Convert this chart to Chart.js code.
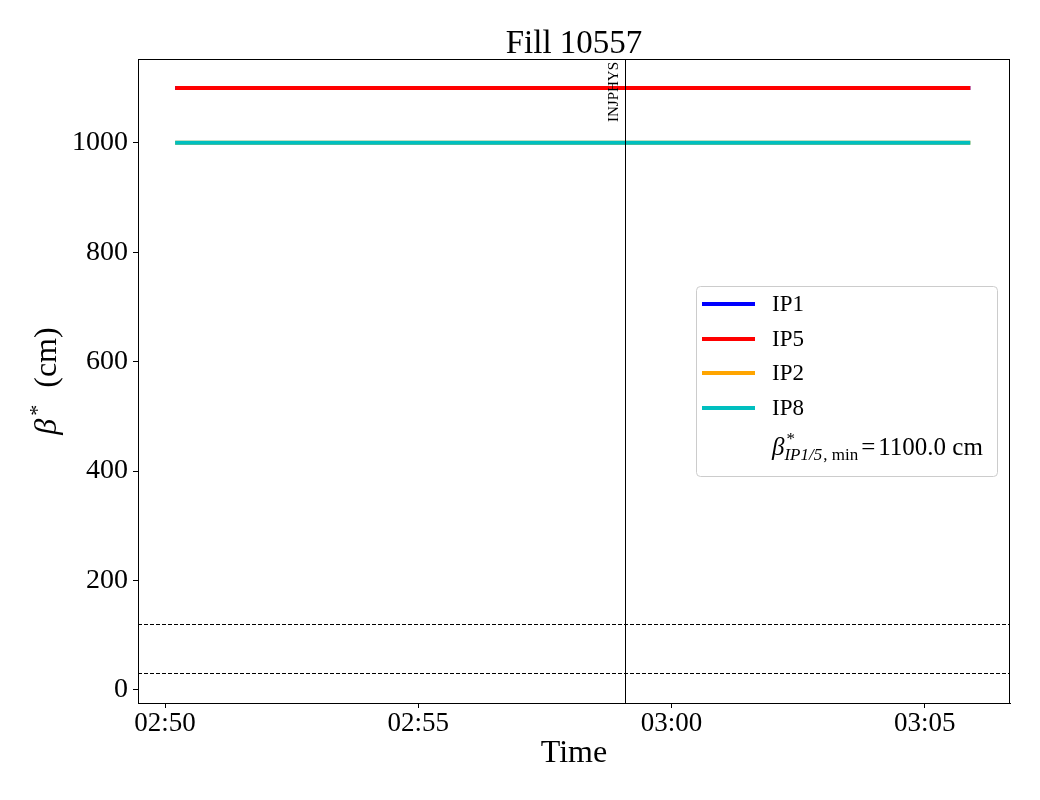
<!DOCTYPE html>
<html>
<head>
<meta charset="utf-8">
<title>Fill 10557</title>
<script src="https://cdn.jsdelivr.net/npm/chart.js@4"></script>
<style>
  html, body { margin: 0; padding: 0; background: #fff; }
  #wrap { width: 1040px; height: 800px; }
</style>
</head>
<body>
<div id="wrap"><canvas id="chart" width="1040" height="800"></canvas></div>
<script>
// --- data ---
var times = ['02:50:12', '02:55:00', '03:00:00', '03:05:54'];
var ip1Values = [1100, 1100, 1100, 1100];
var ip5Values = [1100, 1100, 1100, 1100];
var ip2Values = [1000, 1000, 1000, 1000];
var ip8Values = [1000, 1000, 1000, 1000];
var xTickLabels = ['02:50', '02:55', '03:00', '03:05'];
var yTickValues = [0, 200, 400, 600, 800, 1000];
var xRange = ['02:49:28', '03:06:41'];
var yRange = [-24, 1153];
var markerTime = '02:59:05';
var markerLabel = 'INJPHYS';
var dashedLevels = [120, 30];
var betaMin = '1100.0';

var SERIF = '"Liberation Serif", "DejaVu Serif", serif';

function toSec(t) {
    var p = t.split(':').map(Number);
    return p[0] * 3600 + p[1] * 60 + (p[2] || 0);
}
function fmt(sec) {
    var h = Math.floor(sec / 3600), m = Math.floor((sec % 3600) / 60);
    return (h < 10 ? '0' : '') + h + ':' + (m < 10 ? '0' : '') + m;
}
function pts(values) {
    return values.map(function(v, i) { return { x: toSec(times[i]), y: v }; });
}

var series = [
    { label: 'IP1', data: ip1Values, color: '#0000ff', order: 4 },
    { label: 'IP5', data: ip5Values, color: '#ff0000', order: 3 },
    { label: 'IP2', data: ip2Values, color: '#ffa500', order: 2 },
    { label: 'IP8', data: ip8Values, color: '#00bfbf', order: 1 }
];

// frame, marker line, dashed levels, title, axis labels and legend
var decorations = {
    id: 'decorations',
    beforeDatasetsDraw: function(chart) {
        var ctx = chart.ctx, a = chart.chartArea;
        var ys = chart.scales.y;
        ctx.save();
        ctx.strokeStyle = '#000';
        ctx.lineWidth = 1;
        ctx.setLineDash([4, 2]);
        dashedLevels.forEach(function(v) {
            var py = Math.round(ys.getPixelForValue(v)) + 0.5;
            ctx.beginPath();
            ctx.moveTo(a.left, py);
            ctx.lineTo(a.right, py);
            ctx.stroke();
        });
        ctx.restore();
    },
    afterDatasetsDraw: function(chart) {
        var ctx = chart.ctx, a = chart.chartArea;
        var xs = chart.scales.x;
        ctx.save();

        // marker line
        var mx = Math.round(xs.getPixelForValue(toSec(markerTime))) + 0.5;
        ctx.strokeStyle = '#000';
        ctx.lineWidth = 1;
        ctx.beginPath();
        ctx.moveTo(mx, a.top);
        ctx.lineTo(mx, a.bottom);
        ctx.stroke();

        ctx.save();
        ctx.translate(mx - 4, a.top + 3);
        ctx.rotate(-Math.PI / 2);
        ctx.font = '15px ' + SERIF;
        ctx.fillStyle = '#000';
        ctx.textAlign = 'right';
        ctx.textBaseline = 'bottom';
        ctx.fillText(markerLabel, 0, 0);
        ctx.restore();

        // frame
        ctx.strokeStyle = '#000';
        ctx.lineWidth = 1;
        ctx.strokeRect(Math.round(a.left) + 0.5, Math.round(a.top) + 0.5,
            Math.round(a.right - a.left) - 1, Math.round(a.bottom - a.top));

        ctx.fillStyle = '#000';
        // title
        ctx.font = '33px ' + SERIF;
        ctx.textAlign = 'center';
        ctx.textBaseline = 'alphabetic';
        ctx.fillText('Fill 10557', (a.left + a.right) / 2, 53);

        // x label
        ctx.font = '32px ' + SERIF;
        ctx.fillText('Time', (a.left + a.right) / 2, 762);

        // y label: beta* (cm)
        ctx.save();
        ctx.translate(56, (a.top + a.bottom) / 2);
        ctx.rotate(-Math.PI / 2);
        var f1 = 'italic 32px ' + SERIF, f2 = '22px ' + SERIF, f3 = '32px ' + SERIF;
        ctx.font = f1; var w1 = ctx.measureText('\u03b2').width;
        ctx.font = f2; var w2 = ctx.measureText('*').width;
        ctx.font = f3; var w3 = ctx.measureText('  (cm)').width;
        var sx = -(w1 + w2 + w3 + 4) / 2;
        ctx.textAlign = 'left';
        ctx.font = f1; ctx.fillText('\u03b2', sx, 0);
        ctx.font = f2; ctx.fillText('*', sx + w1 + 3, -12);
        ctx.font = f3; ctx.fillText('  (cm)', sx + w1 + w2 + 4, 0);
        ctx.restore();

        // legend
        var lx = 696, ly = 286, lw = 301, lh = 190;
        ctx.beginPath();
        ctx.roundRect(lx + 0.5, ly + 0.5, lw, lh, 4);
        ctx.fillStyle = 'rgba(255,255,255,0.8)';
        ctx.fill();
        ctx.strokeStyle = '#cccccc';
        ctx.lineWidth = 1;
        ctx.stroke();
        ctx.font = '23px ' + SERIF;
        ctx.textAlign = 'left';
        ctx.textBaseline = 'middle';
        series.forEach(function(s, i) {
            var yy = Math.round(304 + i * 34.7);
            ctx.strokeStyle = s.color;
            ctx.lineWidth = 4;
            ctx.beginPath();
            ctx.moveTo(702, yy);
            ctx.lineTo(755, yy);
            ctx.stroke();
            ctx.fillStyle = '#000';
            ctx.fillText(s.label, 772, yy + 1);
        });
        // beta*_{IP1/5, min} = 1100.0 cm
        var bx = 772, by = 455;
        ctx.textBaseline = 'alphabetic';
        ctx.fillStyle = '#000';
        ctx.font = 'italic 25px ' + SERIF;
        ctx.fillText('\u03b2', bx, by);
        bx += ctx.measureText('\u03b2').width;
        ctx.font = '17px ' + SERIF;
        ctx.fillText('*', bx + 2, by - 11);
        ctx.font = 'italic 17px ' + SERIF;
        ctx.fillText('IP1/5', bx, by + 5);
        bx += ctx.measureText('IP1/5').width;
        ctx.font = '17px ' + SERIF;
        ctx.fillText(', min', bx + 1, by + 5);
        bx += ctx.measureText(', min').width + 4;
        ctx.font = '25px ' + SERIF;
        ctx.fillText('=', bx, by);
        bx += ctx.measureText('=').width + 3;
        ctx.fillText(betaMin + ' cm', bx, by);

        ctx.restore();
    }
};

new Chart(document.getElementById('chart'), {
    type: 'line',
    data: {
        datasets: series.map(function(s) {
            return {
                label: s.label,
                data: pts(s.data),
                borderColor: s.color,
                backgroundColor: s.color,
                borderWidth: 4,
                borderCapStyle: 'butt',
                pointRadius: 0,
                tension: 0,
                order: s.order
            };
        })
    },
    options: {
        responsive: false,
        animation: false,
        events: [],
        layout: { padding: { left: 0, top: 59, right: 30, bottom: 0 } },
        plugins: {
            legend: { display: false },
            title: { display: false },
            tooltip: { enabled: false }
        },
        scales: {
            x: {
                type: 'linear',
                min: toSec(xRange[0]),
                max: toSec(xRange[1]),
                afterBuildTicks: function(scale) {
                    scale.ticks = xTickLabels.map(function(t) { return { value: toSec(t) }; });
                },
                afterFit: function(scale) { scale.height = 97; },
                grid: { drawOnChartArea: false, drawTicks: true, tickLength: 5, color: '#000' },
                border: { display: true, color: '#000' },
                ticks: {
                    color: '#000',
                    font: { family: SERIF, size: 27 },
                    padding: 0,
                    maxRotation: 0,
                    autoSkip: false,
                    callback: function(v) { return fmt(v); }
                }
            },
            y: {
                type: 'linear',
                min: yRange[0],
                max: yRange[1],
                afterBuildTicks: function(scale) {
                    scale.ticks = yTickValues.map(function(v) { return { value: v }; });
                },
                afterFit: function(scale) { scale.width = 138; },
                grid: { drawOnChartArea: false, drawTicks: true, tickLength: 5, color: '#000' },
                border: { display: true, color: '#000' },
                ticks: {
                    color: '#000',
                    font: { family: SERIF, size: 28 },
                    padding: 5,
                    autoSkip: false,
                    callback: function(v) { return String(v); }
                }
            }
        }
    },
    plugins: [decorations]
});
</script>
</body>
</html>
